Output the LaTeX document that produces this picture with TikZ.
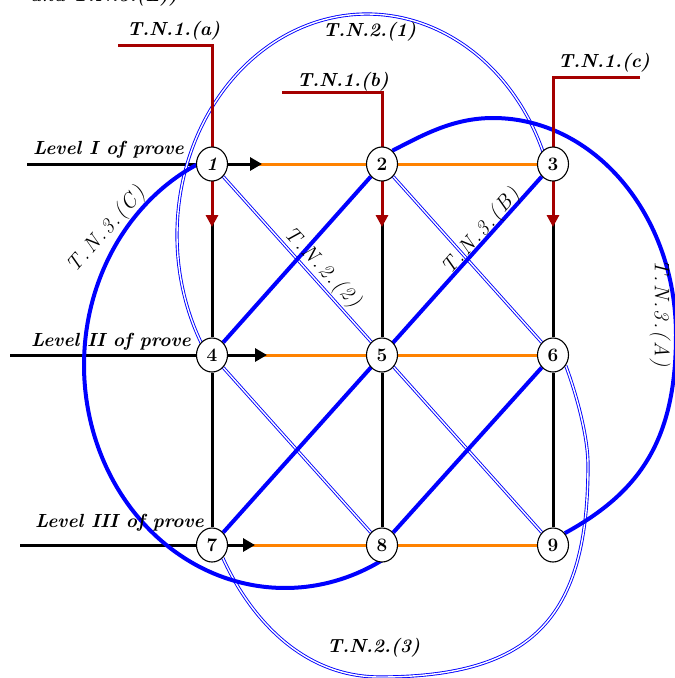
\documentclass[tikz,border=0pt]{standalone}
\usepackage{fontspec}
\usetikzlibrary{arrows.meta,shapes.geometric}
\pgfdeclarelayer{bg}
\pgfsetlayers{bg,main}
\definecolor{dred}{RGB}{165,0,0}
\definecolor{orng}{RGB}{255,130,0}
\newcommand\lsk{\kern2pt}
\begin{document}
\begin{tikzpicture}[x=1pt,y=-1pt,
  num/.style={ellipse,draw,line width=1.1pt,fill=white,minimum width=31pt,minimum height=34pt,inner sep=0pt,font=\fontsize{19}{19}\selectfont\bfseries},
  lvlline/.style={line width=3pt,black},
  orgline/.style={line width=3pt,orng},
  vline/.style={line width=3pt,black},
  tnone/.style={line width=3pt,dred},
  tntwo/.style={draw=blue,double=white,double distance=1.4pt,line width=0.9pt},
  tnthree/.style={line width=4pt,blue},
  blab/.style={font=\fontsize{19}{19}\selectfont\bfseries\itshape,inner sep=0pt},
  rlab/.style={font=\fontsize{21}{21}\selectfont\itshape,inner sep=0pt},
  bigtip/.style={-{Triangle[length=12pt,width=13pt]}},
  redtip/.style={-{Triangle[length=12pt,width=12pt]}}
]
\useasboundingbox (0,0) rectangle (675,678);
% nodes
\node[num] (n1) at (212,164) {\itshape 1};
\node[num] (n2) at (382,164) {2};
\node[num] (n3) at (553,164) {3};
\node[num] (n4) at (212,355) {4};
\node[num] (n5) at (382,355) {5};
\node[num] (n6) at (553,355) {6};
\node[num] (n7) at (212,545) {7};
\node[num] (n8) at (382,545) {8};
\node[num] (n9) at (553,545) {9};
% free ends
\coordinate (l1) at (27,164);  \coordinate (a1) at (262,164);
\coordinate (l2) at (10,355);  \coordinate (a2) at (267,355);
\coordinate (l3) at (20,545);  \coordinate (a3) at (255,545);
\coordinate (ra) at (118,45);  \coordinate (ta) at (212,227);
\coordinate (rb) at (282,92);  \coordinate (tb) at (382,227);
\coordinate (rc) at (640,77);  \coordinate (tc) at (553,227);
% curve waypoints
\coordinate (atop) at (493,118);
\coordinate (aright) at (676,335);
\coordinate (bbot) at (380,677);
\coordinate (bright) at (588,465);
\begin{pgfonlayer}{bg}
% orange horizontal
\draw[orgline] (n1) -- (n2);
\draw[orgline] (n2) -- (n3);
\draw[orgline] (n4) -- (n5);
\draw[orgline] (n5) -- (n6);
\draw[orgline] (n7) -- (n8);
\draw[orgline] (n8) -- (n9);
% black vertical
\draw[vline] (n1) -- (n4);
\draw[vline] (n4) -- (n7);
\draw[vline] (n2) -- (n5);
\draw[vline] (n5) -- (n8);
\draw[vline] (n3) -- (n6);
\draw[vline] (n6) -- (n9);
% level arrows
\draw[lvlline,bigtip] (l1) -- (a1);
\draw[lvlline,bigtip] (l2) -- (a2);
\draw[lvlline,bigtip] (l3) -- (a3);
% T.N.2 double lines
\draw[tntwo] (n1) -- (n9);
\draw[tntwo] (n2) -- (n6);
\draw[tntwo] (n4) -- (n8);
\draw[tntwo] plot[domain=147:341,samples=90,smooth] ({367+190*cos(\x)},{235+221*sin(\x)});
\draw[tntwo] (n7.-50) .. controls (245,607) and (295,677) .. (bbot)
  .. controls (535,677) and (588,615) .. (bright)
  .. controls (588,430) and (571,379) .. (n6.-40);
% T.N.3 thick blue
\draw[tnthree] (n3) -- (n7);
\draw[tnthree] (n2) -- (n4);
\draw[tnthree] (n6) -- (n8);
\draw[tnthree] (n2.52) .. controls (423,135) and (453,118) .. (atop)
  .. controls (594,118) and (676,215) .. (aright)
  .. controls (676,440) and (640,492) .. (n9.45);
\draw[tnthree] plot[domain=60:248,samples=90,smooth] ({285+201*cos(\x)},{365+223*sin(\x)});
% T.N.1 red
\draw[tnone,redtip] (ra) -| (ta);
\draw[tnone,redtip] (rb) -| (tb);
\draw[tnone,redtip] (rc) -| (tc);
\end{pgfonlayer}
% labels
\node[blab,anchor=base west] (cap) at (30,1) {and T.N.3.(E))};
\node[blab,anchor=base west] (lv1) at (33,154) {Level I of prove};
\node[blab,anchor=base west] (lv2) at (31,346) {Level II of prove};
\node[blab,anchor=base west] (lv3) at (35,527) {Level III of prove};
\node[blab,anchor=base west] (la) at (127,35) {T.N.1.(a)};
\node[blab,anchor=base west] (lb) at (297,86) {T.N.1.(b)};
\node[blab,anchor=base west] (lc) at (558,67) {T.N.1.(c)};
\node[blab,anchor=base west] (l21) at (323,36) {T.N.2.(1)};
\node[blab,anchor=base west] (l23) at (327,652) {T.N.2.(3)};
\node[rlab,rotate=49] (l3c) at (107,230) {T\lsk.\lsk N\lsk.\lsk 3\lsk.\lsk(\lsk C\lsk)};
\node[rlab,rotate=-47] (l22) at (322,268) {T\lsk.\lsk N\lsk.\lsk 2\lsk.\lsk(\lsk 2\lsk)};
\node[rlab,rotate=49] (l3b) at (482,232) {T\lsk.\lsk N\lsk.\lsk 3\lsk.\lsk(\lsk B\lsk)};
\node[rlab,rotate=-90] (l3a) at (660,313) {T\lsk.\lsk N\lsk.\lsk 3\lsk.\lsk(\lsk A\lsk)};
\end{tikzpicture}
\end{document}
